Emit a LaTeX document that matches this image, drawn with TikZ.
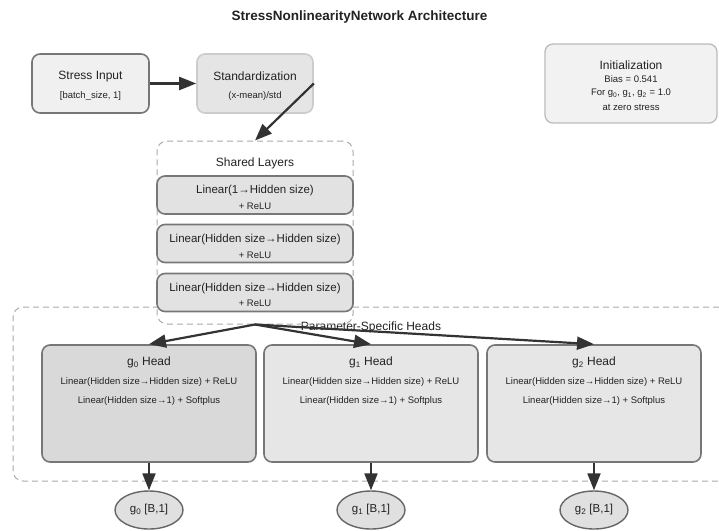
\documentclass[tikz,border=0pt]{standalone}
\usepackage{fontspec}
\setmainfont{Liberation Sans}
\usetikzlibrary{arrows.meta,shapes.geometric}
\definecolor{arr}{HTML}{333333}
\definecolor{txt}{HTML}{222222}
\definecolor{bdark}{HTML}{777777}
\definecolor{finput}{HTML}{F0F0F0}
\definecolor{fstd}{HTML}{E5E5E5}
\definecolor{bstd}{HTML}{CCCCCC}
\definecolor{finit}{HTML}{F2F2F2}
\definecolor{binit}{HTML}{BBBBBB}
\definecolor{flayer}{HTML}{E2E2E2}
\definecolor{fhead}{HTML}{D9D9D9}
\definecolor{fheadb}{HTML}{E6E6E6}
\definecolor{fout}{HTML}{E0E0E0}
\definecolor{bout}{HTML}{666666}
\definecolor{dashc}{HTML}{AAAAAA}
\newcommand{\bigf}{\fontsize{12}{14}\selectfont}
\newcommand{\midf}{\fontsize{11.5}{13}\selectfont}
\newcommand{\smf}{\fontsize{9.5}{11}\selectfont}
\tikzset{
  roundbox/.style={rounded corners=8pt, line width=1.6pt, inner sep=0pt},
  inputbox/.style={roundbox, draw=bdark, fill=finput, minimum width=117pt, minimum height=59pt},
  stdbox/.style={roundbox, draw=bstd, fill=fstd, minimum width=116pt, minimum height=59pt},
  initbox/.style={roundbox, line width=1.3pt, draw=binit, fill=finit, minimum width=172pt, minimum height=79pt},
  layerbox/.style={roundbox, draw=bdark, fill=flayer, minimum width=196pt, minimum height=38pt},
  headbox/.style={roundbox, draw=bdark, fill=#1, minimum width=214pt, minimum height=117pt},
  outnode/.style={ellipse, draw=bout, fill=fout, line width=1.4pt, minimum width=68pt, minimum height=38pt, inner sep=0pt, font=\midf, text=txt},
  container/.style={draw=dashc, dash pattern=on 6pt off 4pt, line width=1pt, rounded corners=10pt, inner sep=0pt},
  lbl/.style={text=txt, inner sep=0pt, align=center, yshift=-1.5pt},
  arrowline/.style={draw=arr, line width=2.2pt, -{Triangle[length=17pt,width=13pt]}},
}
\begin{document}
\begin{tikzpicture}[x=1pt,y=-1pt]
\useasboundingbox (0,0) rectangle (719,530);
\fill[white] (0,0) rectangle (719,530);

% title
\node[lbl, font=\fontsize{13.5}{15}\selectfont\bfseries] (title) at (359.5,16) {StressNonlinearityNetwork Architecture};

% top row
\node[inputbox] (inp) at (90.5,83.5) {};
\node[lbl, font=\bigf] (inpt) at (90.5,75) {Stress Input};
\node[lbl, font=\smf] (inps) at (90.5,95) {[batch\_size, 1]};

\node[stdbox] (std) at (255,83.5) {};
\node[lbl, font=\bigf] (stdt) at (255,75) {Standardization};
\node[lbl, font=\smf] (stds) at (255,95) {(x-mean)/std};

\node[initbox] (init) at (631,83.5) {};
\node[lbl, font=\bigf] (initt) at (631,64) {Initialization};
\node[lbl, font=\smf] (init1) at (631,78) {Bias = 0.541};
\node[lbl, font=\smf] (init2) at (631,92) {For g\textsubscript{0}, g\textsubscript{1}, g\textsubscript{2} = 1.0};
\node[lbl, font=\smf] (init3) at (631,106) {at zero stress};

% heads container
\node[container, minimum width=716pt, minimum height=174pt] (heads) at (371,394) {};
\node[lbl, font=\bigf] (headst) at (371,326) {Parameter-Specific Heads};

% shared container and layers
\node[container, minimum width=196pt, minimum height=183pt] (shared) at (255,232.5) {};
\node[lbl, font=\bigf] (sharedt) at (255,162) {Shared Layers};

\node[layerbox] (l1) at (255,195) {};
\node[lbl, font=\midf] (l1a) at (255,189) {Linear(1→Hidden size)};
\node[lbl, font=\smf] (l1b) at (255,205) {+ ReLU};

\node[layerbox] (l2) at (255,243.5) {};
\node[lbl, font=\midf] (l2a) at (255,238) {Linear(Hidden size→Hidden size)};
\node[lbl, font=\smf] (l2b) at (255,254) {+ ReLU};

\node[layerbox] (l3) at (255,292.5) {};
\node[lbl, font=\midf] (l3a) at (255,287) {Linear(Hidden size→Hidden size)};
\node[lbl, font=\smf] (l3b) at (255,302) {+ ReLU};

% heads
\node[headbox=fhead] (h0) at (149,403.5) {};
\node[lbl, font=\bigf] (h0t) at (149,361) {g\textsubscript{0} Head};
\node[lbl, font=\smf] (h0a) at (149,381) {Linear(Hidden size→Hidden size) + ReLU};
\node[lbl, font=\smf] (h0b) at (149,400) {Linear(Hidden size→1) + Softplus};

\node[headbox=fheadb] (h1) at (371,403.5) {};
\node[lbl, font=\bigf] (h1t) at (371,361) {g\textsubscript{1} Head};
\node[lbl, font=\smf] (h1a) at (371,381) {Linear(Hidden size→Hidden size) + ReLU};
\node[lbl, font=\smf] (h1b) at (371,400) {Linear(Hidden size→1) + Softplus};

\node[headbox=fheadb] (h2) at (594,403.5) {};
\node[lbl, font=\bigf] (h2t) at (594,361) {g\textsubscript{2} Head};
\node[lbl, font=\smf] (h2a) at (594,381) {Linear(Hidden size→Hidden size) + ReLU};
\node[lbl, font=\smf] (h2b) at (594,400) {Linear(Hidden size→1) + Softplus};

% outputs
\node[outnode] (o0) at (149,510) {g\textsubscript{0} [B,1]};
\node[outnode] (o1) at (371,510) {g\textsubscript{1} [B,1]};
\node[outnode] (o2) at (594,510) {g\textsubscript{2} [B,1]};

% connectors
\draw[arrowline] (inp.east) -- (std.west);
\draw[arrowline] (std.east) -- (shared.north);
\draw[arrowline] (shared.south) -- (h0.north);
\draw[arrowline] (shared.south) -- (h1.north);
\draw[arrowline] (shared.south) -- (h2.north);
\draw[arrowline] (h0.south) -- (o0.north);
\draw[arrowline] (h1.south) -- (o1.north);
\draw[arrowline] (h2.south) -- (o2.north);
\end{tikzpicture}
\end{document}
